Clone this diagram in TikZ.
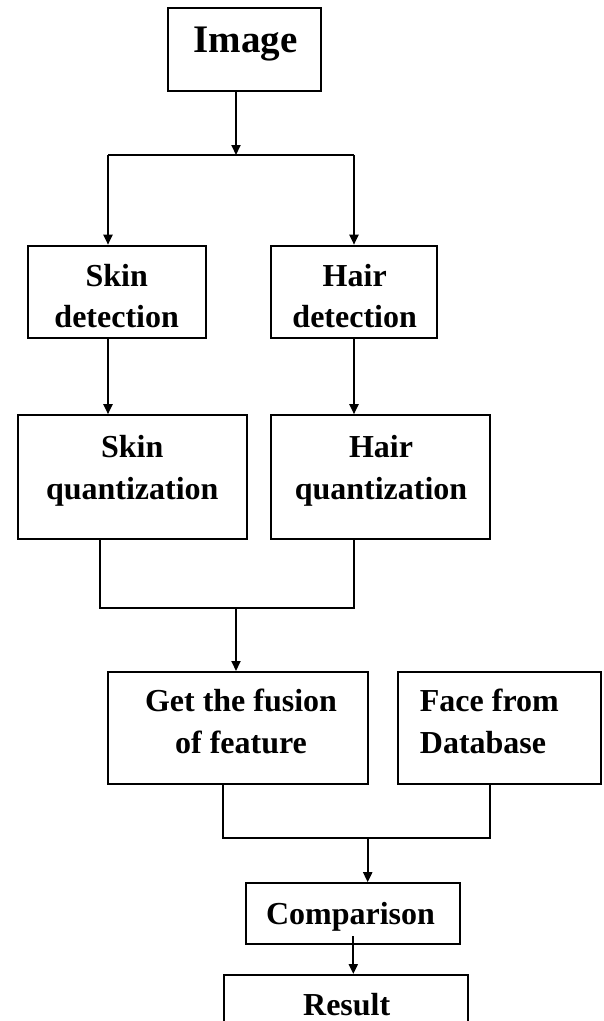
\documentclass[tikz,border=0pt]{standalone}
\usepackage{fontspec}
\setmainfont{Liberation Serif}
\usetikzlibrary{arrows.meta, positioning}
\tikzset{
  box/.style={rectangle, draw=black, line width=2pt, inner sep=0pt},
  txt/.style={font=\fontsize{32}{41.6}\selectfont\bfseries, align=center, inner sep=0pt},
  arrow/.style={-{Triangle[length=10pt, width=9pt]}, line width=2pt, color=black},
  line/.style={line width=2pt, color=black}
}

\begin{document}
\begin{tikzpicture}[x=1pt, y=-1pt]
  \useasboundingbox (0,0) rectangle (603,1021);
  \fill[white] (0,0) rectangle (603,1021);
  \clip (0,0) rectangle (603,1021);
  % Boxes
  \node[box, minimum width=153pt, minimum height=83pt] (image) at (244.5,49.5) {};
  \node[box, minimum width=178pt, minimum height=92pt] (skindet) at (116.9,291.7) {};
  \node[box, minimum width=166pt, minimum height=92pt] (hairdet) at (354,291.7) {};
  \node[box, minimum width=229pt, minimum height=124pt] (skinq) at (132.2,477.2) {};
  \node[box, minimum width=219pt, minimum height=124pt] (hairq) at (380.5,477.2) {};
  \node[box, minimum width=260pt, minimum height=112pt] (fusion) at (238.2,728) {};
  \node[box, minimum width=203pt, minimum height=112pt] (db) at (499.8,728) {};
  \node[box, minimum width=214pt, minimum height=61pt] (comp) at (352.5,913.7) {};
  \node[box, minimum width=244pt, minimum height=80pt] (result) at (346.2,1015) {};
  % Texts
  \node[txt, font=\fontsize{39}{46}\selectfont\bfseries] (image-t) at (245.5,44.4) {Image};
  \node[txt] (skindet-t) at (116.7,296) {Skin\\detection};
  \node[txt] (hairdet-t) at (354.7,296) {Hair\\detection};
  \node[txt] (skinq-t) at (132.3,470.8) {Skin\\quantization};
  \node[txt] (hairq-t) at (381,470.8) {Hair\\quantization};
  \node[txt] (fusion-t) at (241,721.5) {Get the fusion\\of feature};
  \node[txt, align=left, anchor=west] (db-t) at (419.7,721.5) {Face from\\Database};
  \node[txt] (comp-t) at (350.5,916.7) {Comparison};
  \node[txt] (result-t) at (346.7,1005) {Result};
  % Split below the image
  \coordinate (split) at (236,155);
  \coordinate (splitL) at (108,155);
  \coordinate (splitR) at (354,155);
  \draw[arrow] (split |- image.south) -- (split);
  \draw[line] (splitL) -- (splitR);
  \draw[arrow] (splitL) -- (splitL |- skindet.north);
  \draw[arrow] (splitR) -- (splitR |- hairdet.north);
  % Detection to quantization
  \draw[arrow] (splitL |- skindet.south) -- (splitL |- skinq.north);
  \draw[arrow] (hairdet.south) -- (hairdet.south |- hairq.north);
  % Join of both quantizations
  \coordinate (joinL) at (100,607.7);
  \coordinate (joinR) at (354,607.7);
  \coordinate (merge) at (236,607.7);
  \draw[line] (joinL |- skinq.south) -- (joinL) -- (joinR) -- (joinR |- hairq.south);
  \draw[arrow] (merge) -- (merge |- fusion.north);
  % Join of fusion and database
  \coordinate (cmpL) at (223,838.3);
  \coordinate (cmpR) at (490,838.3);
  \coordinate (cmpin) at (367.7,838.3);
  \draw[line] (cmpL |- fusion.south) -- (cmpL) -- (cmpR) -- (cmpR |- db.south);
  \draw[arrow] (cmpin) -- (cmpin |- comp.north);
  % Comparison to result
  \coordinate (cmpout) at (353.3,936);
  \draw[arrow] (cmpout) -- (cmpout |- result.north);
\end{tikzpicture}
\end{document}
